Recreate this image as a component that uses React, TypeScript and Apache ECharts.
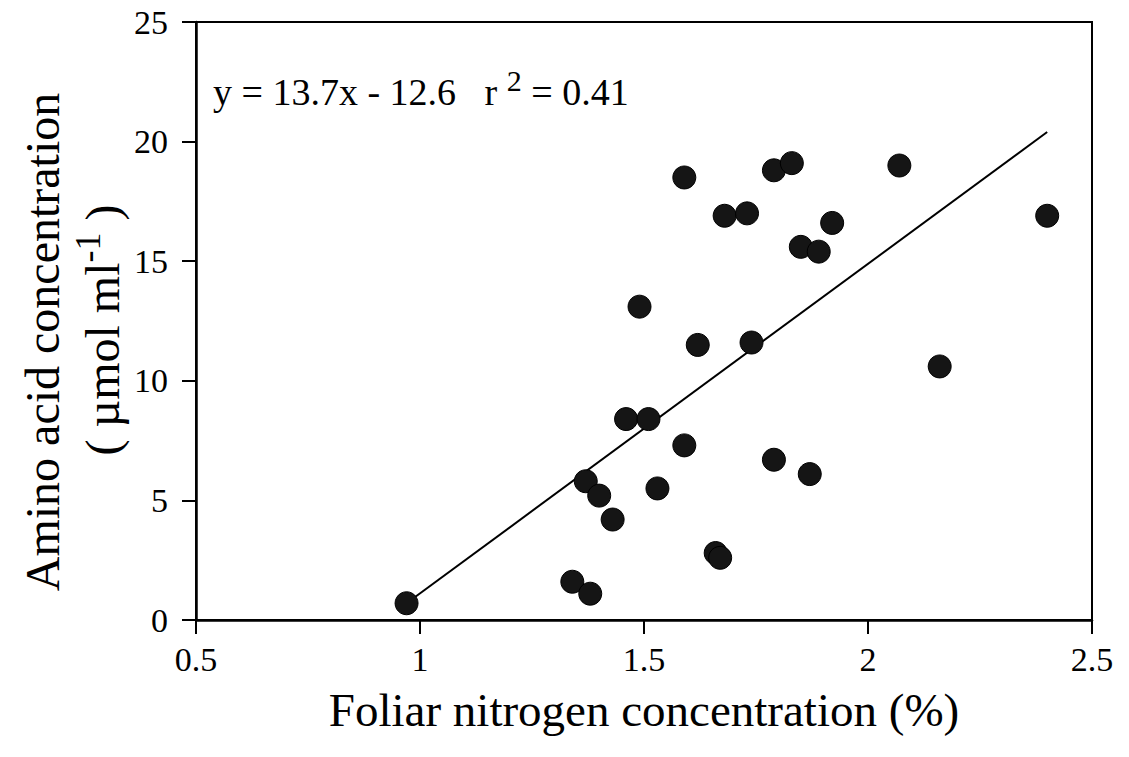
import React, { useEffect, useRef } from "react";
import * as echarts from "echarts";

const nitrogen = [0.97, 1.34, 1.38, 1.37, 1.40, 1.43, 1.46, 1.51, 1.49, 1.53, 1.59, 1.59, 1.62, 1.66, 1.67, 1.68, 1.73, 1.74, 1.79, 1.83, 1.79, 1.85, 1.89, 1.92, 1.87, 2.07, 2.16, 2.40];
const aminoAcid = [0.7, 1.6, 1.1, 5.8, 5.2, 4.2, 8.4, 8.4, 13.1, 5.5, 7.3, 18.5, 11.5, 2.8, 2.6, 16.9, 17.0, 11.6, 18.8, 19.1, 6.7, 15.6, 15.4, 16.6, 6.1, 19.0, 10.6, 16.9];
const fitX = [0.97, 2.40];
const fitY = [0.7, 20.4];
const xTicks = [0.5, 1, 1.5, 2, 2.5];
const yTicks = [0, 5, 10, 15, 20, 25];

const FONT = "'Liberation Serif', 'Times New Roman', 'DejaVu Serif', serif";

export default function App() {
  const ref = useRef<HTMLDivElement>(null);
  useEffect(() => {
    if (!ref.current) return;
    const chart = echarts.init(ref.current, null, { renderer: "svg" });
    const fmtX = (v: number) => (xTicks.includes(v) ? String(v) : "");
    const fmtY = (v: number) => (yTicks.includes(v) ? String(v) : "");
    chart.setOption({
      animation: false,
      backgroundColor: "#ffffff",
      grid: {
        left: 196,
        right: 37,
        top: 22,
        bottom: 137,
        show: true,
        borderColor: "#000",
        borderWidth: 2,
        containLabel: false,
      },
      xAxis: {
        type: "value",
        min: 0.5,
        max: 2.5,
        interval: 0.5,
        name: "Foliar nitrogen concentration (%)",
        nameLocation: "middle",
        nameGap: 66,
        nameTextStyle: { fontFamily: FONT, fontSize: 47, color: "#000" },
        axisLine: { show: true, onZero: false, lineStyle: { color: "#000", width: 2.5 } },
        axisTick: { show: true, inside: false, length: 14, lineStyle: { color: "#000", width: 2 } },
        axisLabel: { fontFamily: FONT, fontSize: 34, color: "#000", margin: 22, formatter: fmtX },
        splitLine: { show: false },
      },
      yAxis: {
        type: "value",
        min: 0,
        max: 25,
        interval: 5,
        axisLine: { show: true, onZero: false, lineStyle: { color: "#000", width: 2.5 } },
        axisTick: { show: true, inside: false, length: 14, lineStyle: { color: "#000", width: 2 } },
        axisLabel: { fontFamily: FONT, fontSize: 34, color: "#000", margin: 28, formatter: fmtY },
        splitLine: { show: false },
      },
      graphic: [
        {
          type: "text",
          x: 42,
          y: 342,
          rotation: Math.PI / 2,
          style: {
            text: "Amino acid concentration",
            fontFamily: FONT,
            fontSize: 48,
            fill: "#000",
            align: "center",
            verticalAlign: "middle",
          },
        },
        {
          type: "text",
          x: 98,
          y: 330,
          rotation: Math.PI / 2,
          style: {
            text: "{a|( µmol ml}{s|-1}{a| )}",
            fontFamily: FONT,
            fill: "#000",
            align: "center",
            verticalAlign: "middle",
            rich: {
              a: { fontFamily: FONT, fontSize: 48, lineHeight: 56, verticalAlign: "bottom", fill: "#000" },
              s: { fontFamily: FONT, fontSize: 36, lineHeight: 36, verticalAlign: "top", fill: "#000" },
            },
          },
        },
        {
          type: "text",
          x: 213,
          y: 88,
          style: {
            text: "{a|y = 13.7x - 12.6   r }{s|2}{a| = 0.41}",
            fontFamily: FONT,
            fill: "#000",
            align: "left",
            verticalAlign: "middle",
            rich: {
              a: { fontFamily: FONT, fontSize: 38, lineHeight: 46, verticalAlign: "bottom", fill: "#000" },
              s: { fontFamily: FONT, fontSize: 30, lineHeight: 30, verticalAlign: "top", fill: "#000" },
            },
          },
        },
      ],
      series: [
        {
          type: "line",
          data: fitX.map((x, i) => [x, fitY[i]]),
          showSymbol: false,
          symbol: "none",
          lineStyle: { color: "#000", width: 2 },
          z: 2,
          silent: true,
        },
        {
          type: "scatter",
          data: nitrogen.map((x, i) => [x, aminoAcid[i]]),
          symbol: "circle",
          symbolSize: 23,
          itemStyle: { color: "#151515", borderColor: "#000", borderWidth: 1, opacity: 1 },
          z: 3,
        },
      ],
    });
    return () => chart.dispose();
  }, []);
  return (
    <div
      ref={ref}
      style={{ position: "absolute", left: 0, top: 0, width: 1129, height: 757, background: "#fff" }}
    />
  );
}
